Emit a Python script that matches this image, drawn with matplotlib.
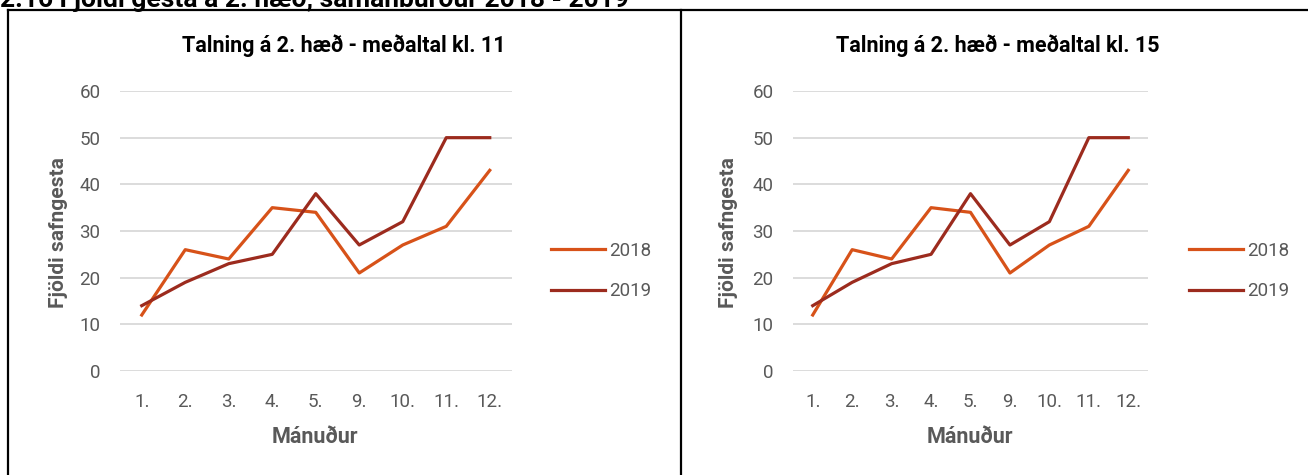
import matplotlib.pyplot as plt
from matplotlib.lines import Line2D

# gögn
manudir = ["1.", "2.", "3.", "4.", "5.", "9.", "10.", "11.", "12."]
ar_2018 = [12, 26, 24, 35, 34, 21, 27, 31, 43]
ar_2019 = [14, 19, 23, 25, 38, 27, 32, 50, 50]
titlar = ["Talning á 2. hæð - meðaltal kl. 11", "Talning á 2. hæð - meðaltal kl. 15"]
yfirtitill = "2.16 Fjöldi gesta á 2. hæð, samanburður 2018 - 2019"

LITUR_2018 = "#D75219"
LITUR_2019 = "#9C2B1E"
GRAR = "#595959"

plt.rcParams['font.family'] = ['Roboto', 'DejaVu Sans']

W, H = 1308, 475
fig = plt.figure(figsize=(W / 100, H / 100), dpi=100)


def px(x0, y0, x1, y1):
    # pixel box (top-left origin) -> figure fraction
    return [x0 / W, 1 - y1 / H, (x1 - x0) / W, (y1 - y0) / H]


# ramminn (tafla)
lina = dict(color="black", lw=1.6, transform=fig.transFigure)
fig.add_artist(Line2D([8 / W, 1], [1 - 10 / H, 1 - 10 / H], **lina))
fig.add_artist(Line2D([8 / W, 8 / W], [0, 1 - 10 / H], **lina))
fig.add_artist(Line2D([681 / W, 681 / W], [0, 1 - 10 / H], **lina))

# yfirtitillinn er skorinn af efst, eins og í frumritinu
fig.text(0.0, 1 - 7 / H, yfirtitill, fontsize=19, fontweight="bold",
         color="black", va="baseline", ha="left")

# stillingar fyrir hvort graf
uppsetning = [
    dict(x0=120, x1=511.5, tx=344, lx=551, yl=58, xl=315),
    dict(x0=793, x1=1148, tx=998, lx=1189, yl=728, xl=970),
]

for titill, u in zip(titlar, uppsetning):
    ax = fig.add_axes(px(u["x0"], 91, u["x1"], 371))
    ax.plot(range(len(manudir)), ar_2018, color=LITUR_2018, lw=2.3, label="2018")
    ax.plot(range(len(manudir)), ar_2019, color=LITUR_2019, lw=2.3, label="2019")
    ax.set_xlim(-0.5, len(manudir) - 0.5)
    ax.set_ylim(0, 60)
    ax.set_yticks(range(0, 61, 10))
    ax.set_xticks(range(len(manudir)))
    ax.set_xticklabels(manudir)
    ax.yaxis.grid(True, color="#D9D9D9", lw=1.3)
    ax.set_axisbelow(True)
    for s in ax.spines.values():
        s.set_visible(False)
    ax.tick_params(length=0, labelsize=13.5, labelcolor=GRAR)
    ax.tick_params(axis="x", pad=16)
    ax.tick_params(axis="y", pad=14)

    fig.text(u["tx"] / W, 1 - 46 / H, titill, fontsize=15.5, fontweight="bold",
             color="black", ha="center", va="center")
    fig.text(u["xl"] / W, 1 - 437 / H, "Mánuður", fontsize=15.5, fontweight="bold",
             color=GRAR, ha="center", va="center")
    fig.text(u["yl"] / W, 1 - 233 / H, "Fjöldi safngesta", fontsize=15,
             fontweight="bold", color=GRAR, ha="center", va="center", rotation=90)

    leg = ax.legend(loc="center left", bbox_to_anchor=(u["lx"] / W, 1 - 271 / H),
                    bbox_transform=fig.transFigure, frameon=False, fontsize=13.5,
                    handlelength=2.9, handletextpad=0.2, labelspacing=1.2,
                    borderpad=0, borderaxespad=0)
    for t in leg.get_texts():
        t.set_color(GRAR)

fig.savefig("out.png", dpi=100)
